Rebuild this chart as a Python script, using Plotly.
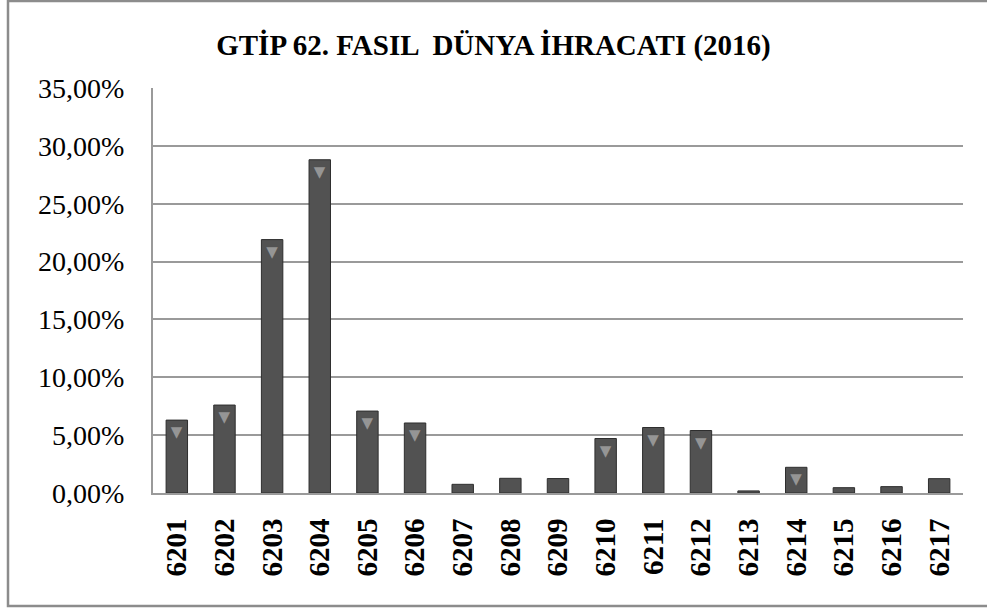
import plotly.graph_objects as go

categories = ["6201", "6202", "6203", "6204", "6205", "6206", "6207", "6208", "6209",
              "6210", "6211", "6212", "6213", "6214", "6215", "6216", "6217"]
shares = [6.30, 7.60, 21.90, 28.80, 7.08, 6.05, 0.75, 1.27, 1.25,
          4.71, 5.66, 5.40, 0.18, 2.22, 0.46, 0.55, 1.24]
y_ticks = [0, 5, 10, 15, 20, 25, 30, 35]
y_tick_labels = ["0,00%", "5,00%", "10,00%", "15,00%", "20,00%", "25,00%", "30,00%", "35,00%"]
title_text = "GTİP 62. FASIL  DÜNYA İHRACATI (2016)"

W, H = 987, 608
ml, mr, mt, mb = 153, 24, 88, 115
pw, ph = W - ml - mr, H - mt - mb

# bevel glyph only on bars tall enough to hold it
bevel = ["▼" if v >= 2 else "" for v in shares]

fig = go.Figure()
fig.add_trace(go.Bar(
    x=categories, y=shares,
    marker=dict(color="#525252", line=dict(color="#2e2e2e", width=1)),
    width=0.45,
    text=bevel, texttemplate="%{text}", textposition="inside", insidetextanchor="end",
    textfont=dict(family="DejaVu Sans", size=15, color="#959595"),
    textangle=0,
    hoverinfo="x+y",
))

fig.update_layout(
    width=W, height=H,
    margin=dict(l=ml, r=mr, t=mt, b=mb),
    paper_bgcolor="white", plot_bgcolor="white",
    showlegend=False,
    title=dict(text=title_text, x=0.5, xref="container", xanchor="center",
               y=1 - 45 / H, yanchor="middle",
               font=dict(family="Liberation Serif", size=29, color="black", weight="bold")),
)
fig.update_yaxes(
    range=[0, 35], tickvals=y_ticks, ticktext=y_tick_labels,
    showgrid=True, gridcolor="#9a9a9a", gridwidth=1.5,
    showline=True, linecolor="#9a9a9a", linewidth=2,
    zeroline=False, ticks="", ticklabelstandoff=21,
    tickfont=dict(family="Liberation Serif", size=28, color="black"),
    fixedrange=True,
)
fig.update_xaxes(
    showline=True, linecolor="#9a9a9a", linewidth=2,
    ticks="", tickangle=-90, ticklabelstandoff=12,
    tickfont=dict(family="Liberation Serif", size=29, color="black", weight="bold"),
    fixedrange=True,
)
# outer chart border
fig.add_shape(type="rect", xref="paper", yref="paper",
              x0=(8 - ml) / pw, x1=(995 - ml) / pw,
              y0=(ph + mt - 606) / ph, y1=(ph + mt - 1) / ph,
              line=dict(color="#8c8c8c", width=2.5), fillcolor="rgba(0,0,0,0)")

fig.write_html("out.html", config={"displayModeBar": False},
               post_script="document.body.style.margin='0';")
